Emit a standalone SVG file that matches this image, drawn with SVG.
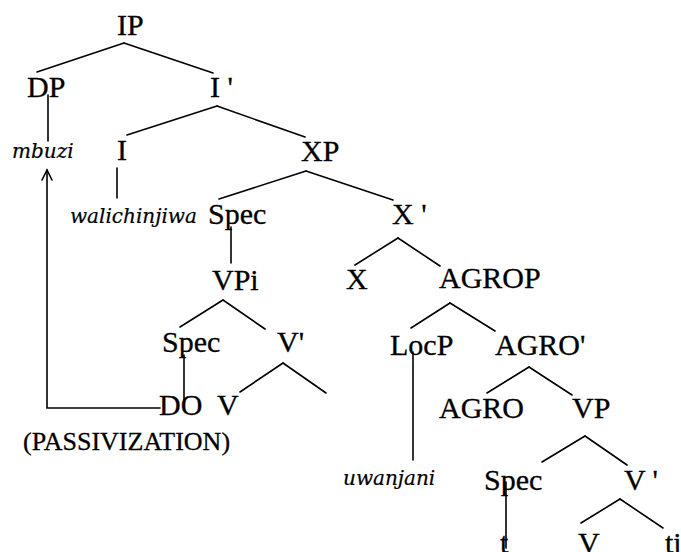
<svg xmlns="http://www.w3.org/2000/svg" width="681" height="552" viewBox="0 0 681 552">
<style>
.lbl{font-family:'Liberation Serif','Times New Roman',serif;font-size:30px;fill:#000;stroke:#000;stroke-width:0.3}
.it{font-family:'DejaVu Serif',serif;font-style:italic;font-size:20px;fill:#000;stroke:#000;stroke-width:0.2}
.pas{font-family:'Liberation Serif','Times New Roman',serif;font-size:26px;fill:#000;stroke:#000;stroke-width:0.3}
.e{stroke:#000;stroke-width:1.6;fill:none;stroke-linecap:round}
</style>
<rect width="681" height="552" fill="#fff"/>
<g id="connectors">
<line class="e" x1="124" y1="43" x2="37" y2="72"/>
<line class="e" x1="124" y1="43" x2="213" y2="73"/>
<line class="e" x1="217" y1="106" x2="127" y2="135"/>
<line class="e" x1="217" y1="106" x2="305" y2="137"/>
<line class="e" x1="306" y1="171" x2="219" y2="199"/>
<line class="e" x1="306" y1="171" x2="393" y2="200"/>
<line class="e" x1="398" y1="238" x2="355" y2="265"/>
<line class="e" x1="398" y1="238" x2="440" y2="266"/>
<line class="e" x1="223" y1="300" x2="180" y2="327"/>
<line class="e" x1="223" y1="300" x2="265" y2="329"/>
<line class="e" x1="283" y1="363" x2="240" y2="392"/>
<line class="e" x1="283" y1="363" x2="326" y2="393"/>
<line class="e" x1="450" y1="303" x2="411" y2="328"/>
<line class="e" x1="450" y1="303" x2="495" y2="331"/>
<line class="e" x1="529" y1="367" x2="487" y2="393"/>
<line class="e" x1="529" y1="367" x2="572" y2="395"/>
<line class="e" x1="585" y1="436" x2="542" y2="462"/>
<line class="e" x1="585" y1="436" x2="627" y2="465"/>
<line class="e" x1="620" y1="499" x2="581" y2="523"/>
<line class="e" x1="620" y1="499" x2="663" y2="528"/>
<line class="e" x1="48" y1="95" x2="48" y2="141"/>
<line class="e" x1="117" y1="168" x2="117" y2="198"/>
<line class="e" x1="231" y1="227" x2="231" y2="263"/>
<line class="e" x1="184" y1="355" x2="184" y2="403"/>
<line class="e" x1="413" y1="352" x2="413" y2="460"/>
<line class="e" x1="506" y1="482" x2="506" y2="548"/>
<path class="e" d="M160,408 H47 V170"/>
<path class="e" d="M42,180 L47,170 L52,180"/>
</g>
<g id="IP"><text class="lbl" x="117" y="35">IP</text></g>
<g id="DP"><text class="lbl" x="27" y="97">DP</text></g>
<g id="Ibar"><text class="lbl" x="210" y="97">I '</text></g>
<g id="mbuzi"><text class="it" x="12" y="158">mbuzi</text></g>
<g id="I"><text class="lbl" x="117" y="160">I</text></g>
<g id="XP"><text class="lbl" x="301" y="161">XP</text></g>
<g id="walichinjiwa"><text class="it" x="70" y="223">walichinjiwa</text></g>
<g id="Spec1"><text class="lbl" x="208" y="224">Spec</text></g>
<g id="Xbar"><text class="lbl" x="392" y="224">X '</text></g>
<g id="VPi"><text class="lbl" x="212" y="290">VPi</text></g>
<g id="X"><text class="lbl" x="346" y="289">X</text></g>
<g id="AGROP"><text class="lbl" x="439" y="288">AGROP</text></g>
<g id="Spec2"><text class="lbl" x="162" y="352">Spec</text></g>
<g id="Vbar1"><text class="lbl" x="277" y="352">V'</text></g>
<g id="LocP"><text class="lbl" x="390" y="355">LocP</text></g>
<g id="AGRObar"><text class="lbl" x="495" y="355">AGRO'</text></g>
<g id="DO"><text class="lbl" x="159" y="415">DO</text></g>
<g id="V1"><text class="lbl" x="217" y="415">V</text></g>
<g id="AGRO"><text class="lbl" x="439" y="418">AGRO</text></g>
<g id="VP"><text class="lbl" x="572" y="418">VP</text></g>
<g id="passivization"><text class="pas" x="23" y="450">(PASSIVIZATION)</text></g>
<g id="uwanjani"><text class="it" x="343" y="485">uwanjani</text></g>
<g id="Spec3"><text class="lbl" x="484" y="490">Spec</text></g>
<g id="Vbar2"><text class="lbl" x="624" y="490">V '</text></g>
<g id="t"><text class="lbl" x="500" y="553">t</text></g>
<g id="V2"><text class="lbl" x="578" y="553">V</text></g>
<g id="ti"><text class="lbl" x="665" y="553">ti</text></g>
</svg>
